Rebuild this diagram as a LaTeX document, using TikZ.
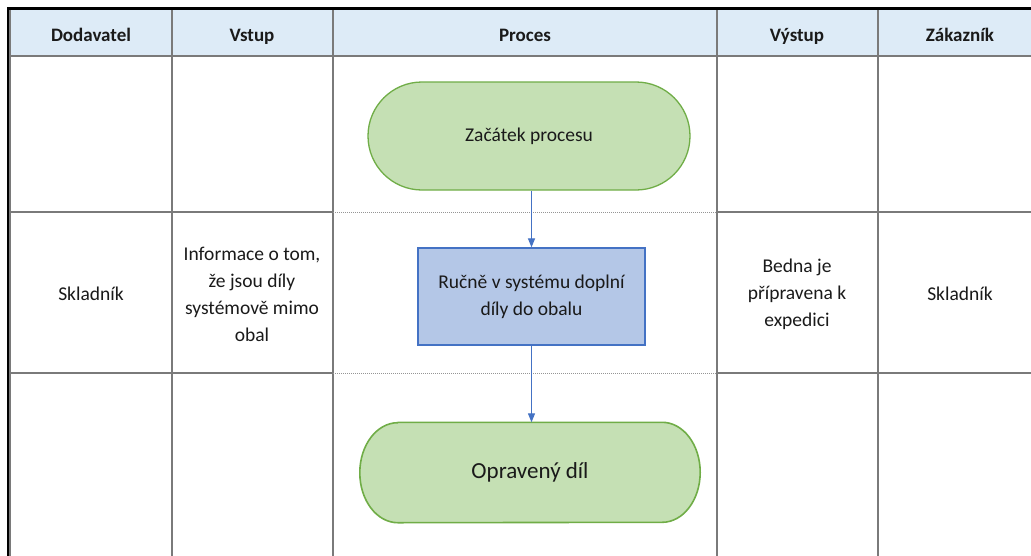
\documentclass[tikz,border=0pt]{standalone}
\usepackage{fontspec}
\setmainfont{Carlito}
\usetikzlibrary{arrows.meta}
\definecolor{hdrfill}{HTML}{DDEBF7}
\definecolor{gridc}{HTML}{7A7A7A}
\definecolor{greenfill}{HTML}{C5E0B4}
\definecolor{greenline}{HTML}{70AD47}
\definecolor{bluefill}{HTML}{B4C7E7}
\definecolor{blueline}{HTML}{4472C4}
\definecolor{txt}{HTML}{1A1A1A}
\tikzset{
  gridline/.style={draw=gridc, line width=1.6pt},
  dotline/.style={draw=gridc!80, line width=1pt, dash pattern=on 1pt off 1pt},
  hdrtext/.style={font=\fontsize{19}{23}\selectfont\bfseries, text=txt, inner sep=0pt, text height=13pt, text depth=4pt},
  celltext/.style={font=\fontsize{19.5}{27}\selectfont, text=txt, align=center, inner sep=0pt},
  startbox/.style={draw=greenline, fill=greenfill, line width=1.3pt, rounded corners=54pt,
    minimum width=322pt, minimum height=108pt, font=\fontsize{19.5}{24}\selectfont, text=txt},
  procbox/.style={draw=blueline, fill=bluefill, line width=1.3pt,
    minimum width=227pt, minimum height=97pt, align=center, font=\fontsize{19.5}{27}\selectfont, text=txt},
  endshape/.style={minimum width=340pt, minimum height=100pt, font=\fontsize{23}{27}\selectfont, text=txt},
  endoutline/.style={fill=greenfill, draw=greenline, line width=1.6pt, line join=round},
  flow/.style={draw=blueline, line width=1.2pt, -{Triangle[length=9pt,width=7pt]}}
}
\begin{document}
\begin{tikzpicture}[x=1pt,y=-1pt]
\useasboundingbox (0,0) rectangle (1031,555);
\fill[white] (0,0) rectangle (1031,555);
\begin{scope}
\clip (0,0) rectangle (1031,555);
% header
\fill[hdrfill] (10,10) rectangle (1040,56);
% grid
\draw[gridline] (10,9.5) -- (1040,9.5);
\draw[gridline] (10,56) -- (1040,56);
\draw[gridline] (10,8) -- (10,556);
\foreach \x in {172,333,717,878} \draw[gridline] (\x,9) -- (\x,556);
\foreach \y in {212,373} {
  \draw[gridline] (10,\y) -- (333,\y);
  \draw[gridline] (717,\y) -- (1040,\y);
  \draw[dotline] (333,\y) -- (717,\y);
}
% outer black border
\draw[black, line width=2.5pt] (7,8.5) -- (1040,8.5);
\draw[black, line width=2pt] (7.5,7.5) -- (7.5,556);
% header texts
\node[hdrtext] (h1) at (91,36.5) {Dodavatel};
\node[hdrtext] (h2) at (252,36.5) {Vstup};
\node[hdrtext] (h3) at (525,36.5) {Proces};
\node[hdrtext] (h4) at (797,36.5) {Výstup};
\node[hdrtext] (h5) at (960,36.5) {Zákazník};
% row 2 texts
\node[celltext] (c1) at (91,294) {Skladník};
\node[celltext] (c2) at (252,294) {Informace o tom,\\že jsou díly\\systémově mimo\\obal};
\node[celltext] (c4) at (797,294) {Bedna je\\přípravena k\\expedici};
\node[celltext] (c5) at (960,294) {Skladník};
% flow
\node[startbox] (start) at (529,136) {Začátek procesu};
\node[procbox] (proc) at (531.5,296.5) {Ručně v systému doplní\\díly do obalu};
\node[endshape] (end) at (530,472.5) {};
\path[endoutline]
  ([xshift=38pt]end.north west) -- ([xshift=-38pt]end.north east)
  arc[start angle=-90, end angle=90, x radius=38, y radius=50]
  -- ([xshift=38pt]end.south west)
  arc[start angle=90, end angle=270, x radius=38, y radius=50] -- cycle;
\node[endshape] at (end.center) {Opravený díl};
\draw[flow] (start.south -| proc.north) -- (proc.north);
\draw[flow] (proc.south) -- (proc.south |- end.north);
\end{scope}
\end{tikzpicture}
\end{document}
